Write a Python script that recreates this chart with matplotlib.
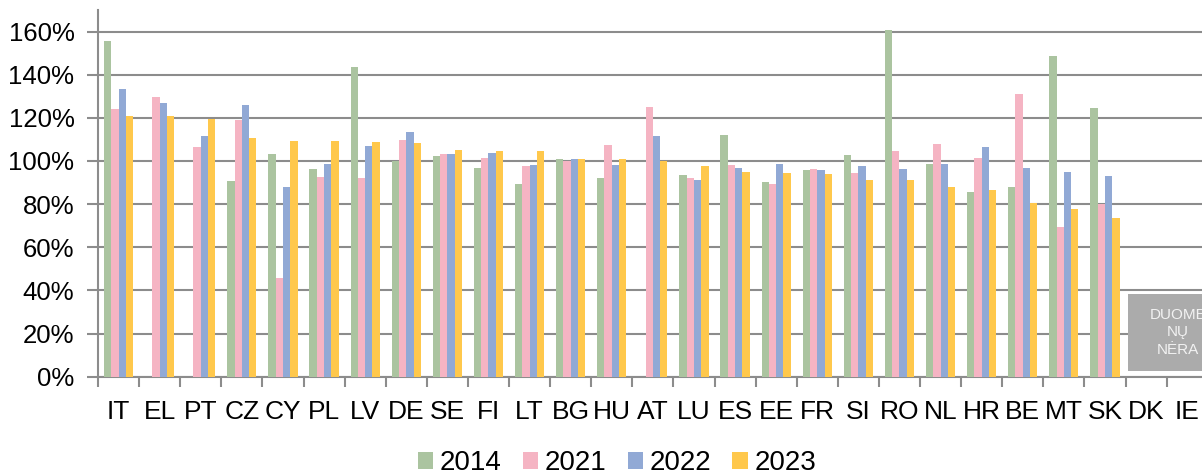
import numpy as np
import matplotlib
matplotlib.use("Agg")
import matplotlib.pyplot as plt
from matplotlib.patches import Rectangle, Patch
from matplotlib.ticker import FixedLocator, PercentFormatter

plt.rcParams['font.family'] = ['Liberation Sans', 'DejaVu Sans']

countries = ["IT", "EL", "PT", "CZ", "CY", "PL", "LV", "DE", "SE", "FI", "LT", "BG", "HU", "AT",
             "LU", "ES", "EE", "FR", "SI", "RO", "NL", "HR", "BE", "MT", "SK", "DK", "IE"]
nan = np.nan
v2014 = [155.4, nan, nan, 90.6, 103.3, 96.3, 143.6, 100.0, 102.5, 96.8, 89.2, 100.7, 92.0, nan,
         93.3, 112.2, 90.2, 96.0, 102.7, 160.7, 98.7, 85.5, 88.0, 148.6, 124.5, nan, nan]
v2021 = [124.3, 129.6, 106.5, 118.8, 45.6, 92.5, 92.3, 109.6, 103.1, 101.6, 97.9, 99.9, 107.6, 124.9,
         92.2, 98.2, 89.4, 96.3, 94.5, 104.8, 107.8, 101.6, 131.0, 69.3, 80.0, nan, nan]
v2022 = [133.4, 126.8, 111.5, 126.0, 87.8, 98.5, 106.9, 113.6, 103.1, 103.9, 98.3, 100.7, 98.2, 111.5,
         91.4, 96.8, 98.5, 96.0, 97.9, 96.3, 98.7, 106.5, 96.8, 94.8, 92.9, nan, nan]
v2023 = [120.8, 120.8, 119.5, 110.7, 109.5, 109.3, 108.7, 108.4, 105.0, 104.7, 104.5, 100.8, 100.7, 100.0,
         97.7, 95.1, 94.6, 94.2, 91.4, 91.4, 87.8, 86.7, 80.6, 77.6, 73.6, nan, nan]
years = ["2014", "2021", "2022", "2023"]
colors = ["#ABC4A0", "#F5B4C3", "#91A9D5", "#FFC84C"]
no_data_text = "DUOME\nNŲ\nNĖRA"

W, H = 1202, 475
fig = plt.figure(figsize=(W / 100, H / 100), dpi=100)
ax_left, ax_right = 98 / W, (98 + 27 * 41.1) / W
ax_bottom, ax_top = (H - 376.7) / H, (H - 10) / H
ax = fig.add_axes([ax_left, ax_bottom, ax_right - ax_left, ax_top - ax_bottom])

x = np.arange(len(countries))
bw = 0.178
series = [v2014, v2021, v2022, v2023]
for i, (vals, c) in enumerate(zip(series, colors)):
    ax.bar(x + (i - 1.5) * bw, vals, width=bw, color=c, zorder=3)

ax.set_xlim(-0.5, len(countries) - 0.5)
ax.set_ylim(0, 170)
ax.yaxis.set_major_locator(FixedLocator(np.arange(0, 161, 20)))
ax.yaxis.set_major_formatter(PercentFormatter(decimals=0))
ax.grid(axis='y', color='#8C8C8C', linewidth=1.5, zorder=0)
ax.set_axisbelow(True)

ax.set_xticks(x)
ax.set_xticklabels(countries, fontsize=19)
ax.set_xticks(np.arange(-0.5, len(countries) + 0.5, 1), minor=True)
ax.tick_params(axis='x', which='major', length=0, pad=17)
ax.tick_params(axis='x', which='minor', length=7, width=1.5, color='#8C8C8C', direction='out')
ax.tick_params(axis='y', length=8, width=1.5, color='#8C8C8C', labelsize=18.5, pad=9)

for s in ['top', 'right']:
    ax.spines[s].set_visible(False)
for s in ['left', 'bottom']:
    ax.spines[s].set_color('#8C8C8C')
    ax.spines[s].set_linewidth(1.5)

# grey "no data" box over DK and IE
ax.add_patch(Rectangle((24.56, 2.6), 2.4, 35.8, facecolor='#ABABAB', edgecolor='none',
                       zorder=4, clip_on=False))
ax.text(25.78, 20.5, no_data_text, ha='center', va='center', fontsize=11, color='#F2F2F2',
        linespacing=1.3, zorder=5)

handles = [Patch(facecolor=c, edgecolor='none') for c in colors]
fig.legend(handles, years, loc='center', bbox_to_anchor=(617 / W, (H - 463) / H), ncol=4,
           frameon=False, fontsize=20, handlelength=0.55, handleheight=0.55,
           handletextpad=0.25, columnspacing=0.75, borderpad=0)

fig.savefig("out.png", dpi=100)
